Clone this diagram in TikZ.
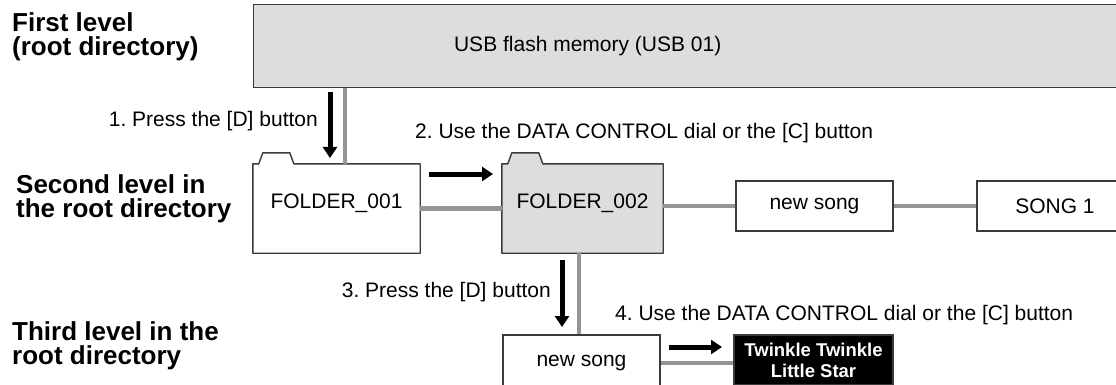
\documentclass[tikz,border=0pt]{standalone}
\usepackage{fontspec}
\setmainfont{Liberation Sans}
\usepackage{tikz}
\usetikzlibrary{arrows.meta,positioning,backgrounds}
\frenchspacing
\definecolor{usbgray}{HTML}{DCDDDF}
\definecolor{linkgray}{HTML}{939598}
\definecolor{edge}{HTML}{3A3A3A}
\tikzset{
  box/.style={draw=edge,fill=white,line width=1.4pt,inner sep=0pt,font=\fontsize{21}{24}\selectfont},
  boxg/.style={box,fill=usbgray},
  boxk/.style={box,fill=black,text=white,align=center,font=\fontsize{18.5}{21}\selectfont\bfseries},
  fold/.style={inner sep=0pt,minimum width=#1,minimum height=89pt},
  foldline/.style={draw=edge,line width=1.4pt,line join=round},
  link/.style={line width=4.5pt,color=linkgray},
  push/.style={-{Triangle[length=11pt,width=14pt]},line width=5pt,color=black},
  lbl/.style={font=\fontsize{21}{24}\selectfont,inner sep=0pt},
  head/.style={font=\fontsize{26}{24}\selectfont\bfseries,align=left,anchor=west,inner sep=0pt},
}
\begin{document}
\begin{tikzpicture}[x=1pt,y=-1pt]
\useasboundingbox (0,0) rectangle (1116,385);
\clip (0,0) rectangle (1116,385);
\node[head] (h1) at (12,37) {First level\\(root directory)};
\node[head] (h2) at (16,199) {Second level in\\the root directory};
\node[head] (h3) at (12,346) {Third level in the\\root directory};
\node[boxg,minimum width=880pt,minimum height=83pt,anchor=north west,
  label={[lbl,xshift=-106pt]center:USB flash memory (USB 01)}] (usb) at (253,4) {};
\node[fold=167pt,label={[lbl,yshift=5pt]center:FOLDER\_001}] (f1) at (336.5,208.5) {};
\node[fold=161pt,label={[lbl,yshift=5pt]center:FOLDER\_002}] (f2) at (582.5,208.5) {};
\begin{scope}[on background layer]
\foreach \f/\c in {f1/white,f2/usbgray}
  \draw[foldline,fill=\c] (\f.north west) -- ++(6,0) -- ++(4,-11) -- ++(27,0) -- ++(4,11)
    -- (\f.north east) -- (\f.south east) -- (\f.south west) -- cycle;
\end{scope}
\node[box,minimum width=157pt,minimum height=50pt] (ns1) at (814.5,206) {new song};
\node[box,minimum width=156pt,minimum height=50pt] (s1) at (1055,206) {SONG 1};
\node[box,minimum width=157pt,minimum height=56pt] (ns2) at (581.5,363) {new song};
\node[boxk,minimum width=159pt,minimum height=50pt] (tw) at (813.5,360) {Twinkle Twinkle\\Little Star};
\coordinate (c1) at (345,0);
\coordinate (c2) at (579,0);
\draw[link] (c1 |- usb.south) -- (c1 |- f1.north);
\draw[link] (f1.east) -- (f2.west);
\draw[link] (f2.east |- ns1.west) -- (ns1.west);
\draw[link] (ns1.east) -- (s1.west);
\draw[link] (c2 |- f2.south) -- (c2 |- ns2.north);
\draw[link] (ns2.east) -- (ns2.east -| tw.west);
\node[lbl,anchor=east] (l1) at (318,121) {1. Press the [D] button};
\node[lbl,anchor=west] (l2) at (415,133) {2. Use the DATA CONTROL dial or the [C] button};
\node[lbl,anchor=east] (l3) at (551,292) {3. Press the [D] button};
\node[lbl,anchor=west] (l4) at (615,315) {4. Use the DATA CONTROL dial or the [C] button};
\coordinate (a1s) at (330,92);  \coordinate (a1e) at (330,158);
\coordinate (a2s) at (429,174); \coordinate (a2e) at (493,174);
\coordinate (a3s) at (562,260); \coordinate (a3e) at (562,327);
\coordinate (a4s) at (669,347); \coordinate (a4e) at (722,347);
\foreach \a in {a1,a2,a3,a4}
  \draw[push] (\a s) -- (\a e);
\end{tikzpicture}
\end{document}
